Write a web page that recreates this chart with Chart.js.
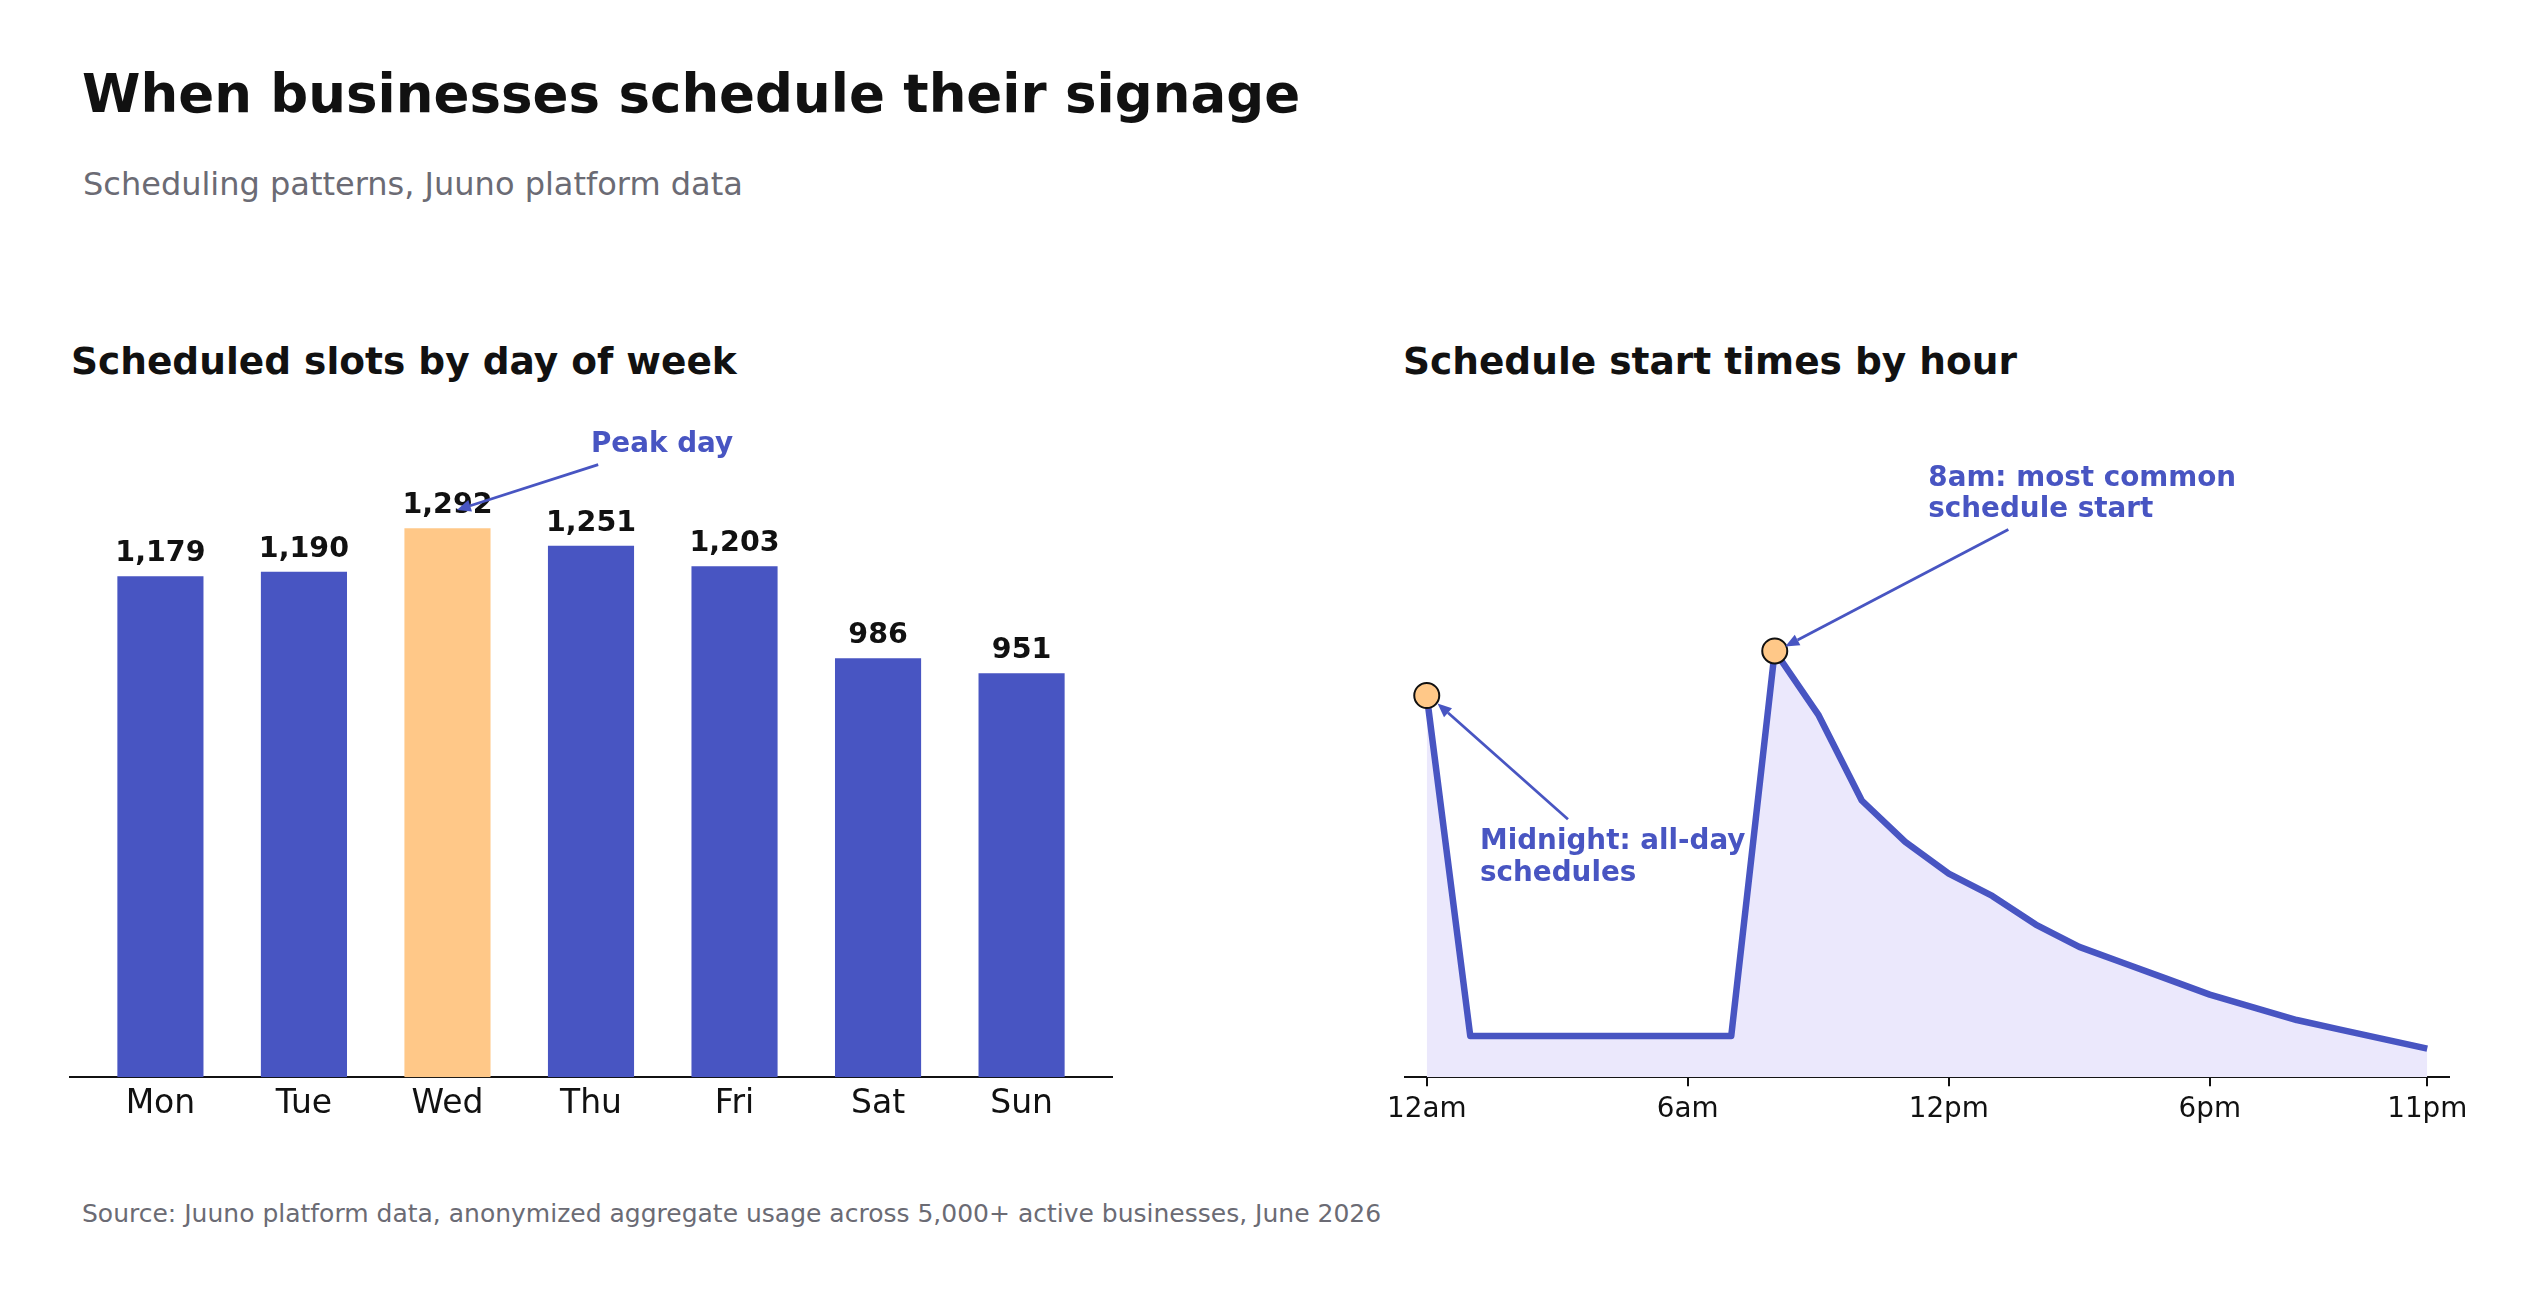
<!DOCTYPE html>
<html>
<head>
<meta charset="utf-8">
<script src="https://cdn.jsdelivr.net/npm/chart.js"></script>
<style>
  html, body { margin: 0; padding: 0; background: #fff; }
  body { width: 2539px; height: 1297px; position: relative; overflow: hidden; font-family: "DejaVu Sans", sans-serif; }
  .txt { position: absolute; white-space: nowrap; line-height: 1; }
  canvas { position: absolute; top: 380px; }
</style>
</head>
<body>
<div class="txt" style="left:82px;top:67px;font-size:53px;font-weight:bold;color:#111">When businesses schedule their signage</div>
<div class="txt" style="left:83px;top:168px;font-size:32px;color:#6b6b74">Scheduling patterns, Juuno platform data</div>
<div class="txt" style="left:71px;top:343px;font-size:37.5px;font-weight:bold;color:#111">Scheduled slots by day of week</div>
<div class="txt" style="left:1403px;top:343px;font-size:37.5px;font-weight:bold;color:#111">Schedule start times by hour</div>
<div class="txt" style="left:82px;top:1201px;font-size:25px;color:#6b6b74">Source: Juuno platform data, anonymized aggregate usage across 5,000+ active businesses, June 2026</div>

<canvas id="days" width="1200" height="820" style="left:0"></canvas>
<canvas id="hours" width="1239" height="820" style="left:1300px"></canvas>

<script>
// scheduled slots per weekday
const days = ["Mon", "Tue", "Wed", "Thu", "Fri", "Sat", "Sun"];
const slots = [1179, 1190, 1292, 1251, 1203, 986, 951];

// share of schedules (%) starting in each hour
const hours = [0, 1, 2, 3, 4, 5, 6, 7, 8, 9, 10, 11, 12, 13, 14, 15, 16, 17, 18, 19, 20, 21, 22, 23];
const startShare = [12.0, 1.3, 1.3, 1.3, 1.3, 1.3, 1.3, 1.3, 13.4, 11.4, 8.7, 7.4, 6.4, 5.7, 4.8, 4.1, 3.6, 3.1, 2.6, 2.2, 1.8, 1.5, 1.2, 0.9];
const hourTicks = [0, 6, 12, 18, 23];
const hourTickLabels = ["12am", "6am", "12pm", "6pm", "11pm"];

const BLUE = "#4855c2";
const PEACH = "#ffc888";
const LAVENDER = "#ebe8fc";
const INK = "#111";

Chart.defaults.font.family = "'DejaVu Sans', sans-serif";

// annotation text + arrows, positions in data units
const dayNotes = [
  { lines: ["Peak day"], at: [3.0, 1472], from: [3.05, 1442], to: [2.065, 1335] },
];
const hourNotes = [
  { lines: ["8am: most common", "schedule start"], at: [11.53, 18.6], from: [13.37, 17.22], to: [8.24, 13.54] },
  { lines: ["Midnight: all-day", "schedules"], at: [1.225, 7.17], from: [3.246, 8.11], to: [0.248, 11.75] },
];

function drawArrow(ctx, x1, y1, x2, y2) {
  const ang = Math.atan2(y2 - y1, x2 - x1);
  const head = 14, half = 6;
  const bx = x2 - head * Math.cos(ang), by = y2 - head * Math.sin(ang);
  ctx.beginPath();
  ctx.moveTo(x1, y1);
  ctx.lineTo(bx, by);
  ctx.stroke();
  ctx.beginPath();
  ctx.moveTo(x2, y2);
  ctx.lineTo(bx + half * Math.sin(ang), by - half * Math.cos(ang));
  ctx.lineTo(bx - half * Math.sin(ang), by + half * Math.cos(ang));
  ctx.closePath();
  ctx.fill();
}

function notesPlugin(notes) {
  return {
    id: "notes",
    afterDraw(chart) {
      const { ctx, scales: { x, y } } = chart;
      ctx.save();
      ctx.font = "bold 27.8px 'DejaVu Sans'";
      ctx.fillStyle = BLUE;
      ctx.strokeStyle = BLUE;
      ctx.lineWidth = 2.8;
      ctx.textAlign = "left";
      ctx.textBaseline = "alphabetic";
      notes.forEach((n) => {
        const tx = x.getPixelForValue(n.at[0]);
        const ty = y.getPixelForValue(n.at[1]);
        n.lines.forEach((line, i) => ctx.fillText(line, tx, ty + i * 31.5));
        drawArrow(ctx,
          x.getPixelForValue(n.from[0]), y.getPixelForValue(n.from[1]),
          x.getPixelForValue(n.to[0]), y.getPixelForValue(n.to[1]));
      });
      ctx.restore();
    },
  };
}

const barLabels = {
  id: "barLabels",
  afterDatasetsDraw(chart) {
    const ctx = chart.ctx;
    const meta = chart.getDatasetMeta(0);
    ctx.save();
    ctx.font = "bold 28.5px 'DejaVu Sans'";
    ctx.fillStyle = INK;
    ctx.textAlign = "center";
    ctx.textBaseline = "alphabetic";
    meta.data.forEach((bar, i) => {
      ctx.fillText(slots[i].toLocaleString("en-US"), bar.x, bar.y - 15);
    });
    ctx.restore();
  },
};

const peak = Math.max(...slots);
new Chart(document.getElementById("days"), {
  type: "bar",
  data: {
    datasets: [{
      data: days.map((d, i) => ({ x: i, y: slots[i] })),
      backgroundColor: slots.map((v) => (v === peak ? PEACH : BLUE)),
      barPercentage: 0.6,
      categoryPercentage: 1,
      borderWidth: 0,
    }],
  },
  options: {
    responsive: false,
    animation: false,
    devicePixelRatio: 1,
    layout: { padding: { left: 70, right: 88, top: 38.7, bottom: 0 } },
    plugins: { legend: { display: false }, tooltip: { enabled: false } },
    scales: {
      x: {
        type: "linear",
        min: -0.63,
        max: 6.63,
        offset: false,
        afterBuildTicks: (s) => { s.ticks = days.map((d, i) => ({ value: i })); },
        afterFit: (s) => { s.height = 122.7; },
        ticks: { callback: (v) => days[v], color: INK, font: { size: 33 }, padding: 7, autoSkip: false, maxRotation: 0 },
        grid: { display: false, drawTicks: false },
        border: { display: true, color: INK, width: 2 },
      },
      y: { display: false, min: 0, max: 1550 },
    },
  },
  plugins: [barLabels, notesPlugin(dayNotes)],
});

const topShare = Math.max(...startShare);
new Chart(document.getElementById("hours"), {
  type: "line",
  data: {
    datasets: [{
      data: hours.map((h, i) => ({ x: h, y: startShare[i] })),
      borderColor: BLUE,
      borderWidth: 6.5,
      backgroundColor: LAVENDER,
      fill: "origin",
      tension: 0,
      borderJoinStyle: "round",
      pointRadius: startShare.map((v, i) => (hours[i] === 0 || v === topShare ? 12.5 : 0)),
      pointBackgroundColor: PEACH,
      pointBorderColor: INK,
      pointBorderWidth: 2,
    }],
  },
  options: {
    responsive: false,
    animation: false,
    devicePixelRatio: 1,
    layout: { padding: { left: 105, right: 90, top: 38.7, bottom: 0 } },
    plugins: { legend: { display: false }, tooltip: { enabled: false } },
    scales: {
      x: {
        type: "linear",
        min: -0.5,
        max: 23.5,
        afterBuildTicks: (s) => { s.ticks = hourTicks.map((v) => ({ value: v })); },
        afterFit: (s) => { s.height = 122.7; },
        ticks: { callback: (v) => hourTickLabels[hourTicks.indexOf(v)], color: INK, font: { size: 27.8 }, padding: 7, autoSkip: false, maxRotation: 0 },
        grid: { display: true, drawOnChartArea: false, drawTicks: true, tickLength: 9, color: INK, lineWidth: 2 },
        border: { display: true, color: INK, width: 2 },
      },
      y: { display: false, min: 0, max: 20.7 },
    },
  },
  plugins: [notesPlugin(hourNotes)],
});
</script>
</body>
</html>
